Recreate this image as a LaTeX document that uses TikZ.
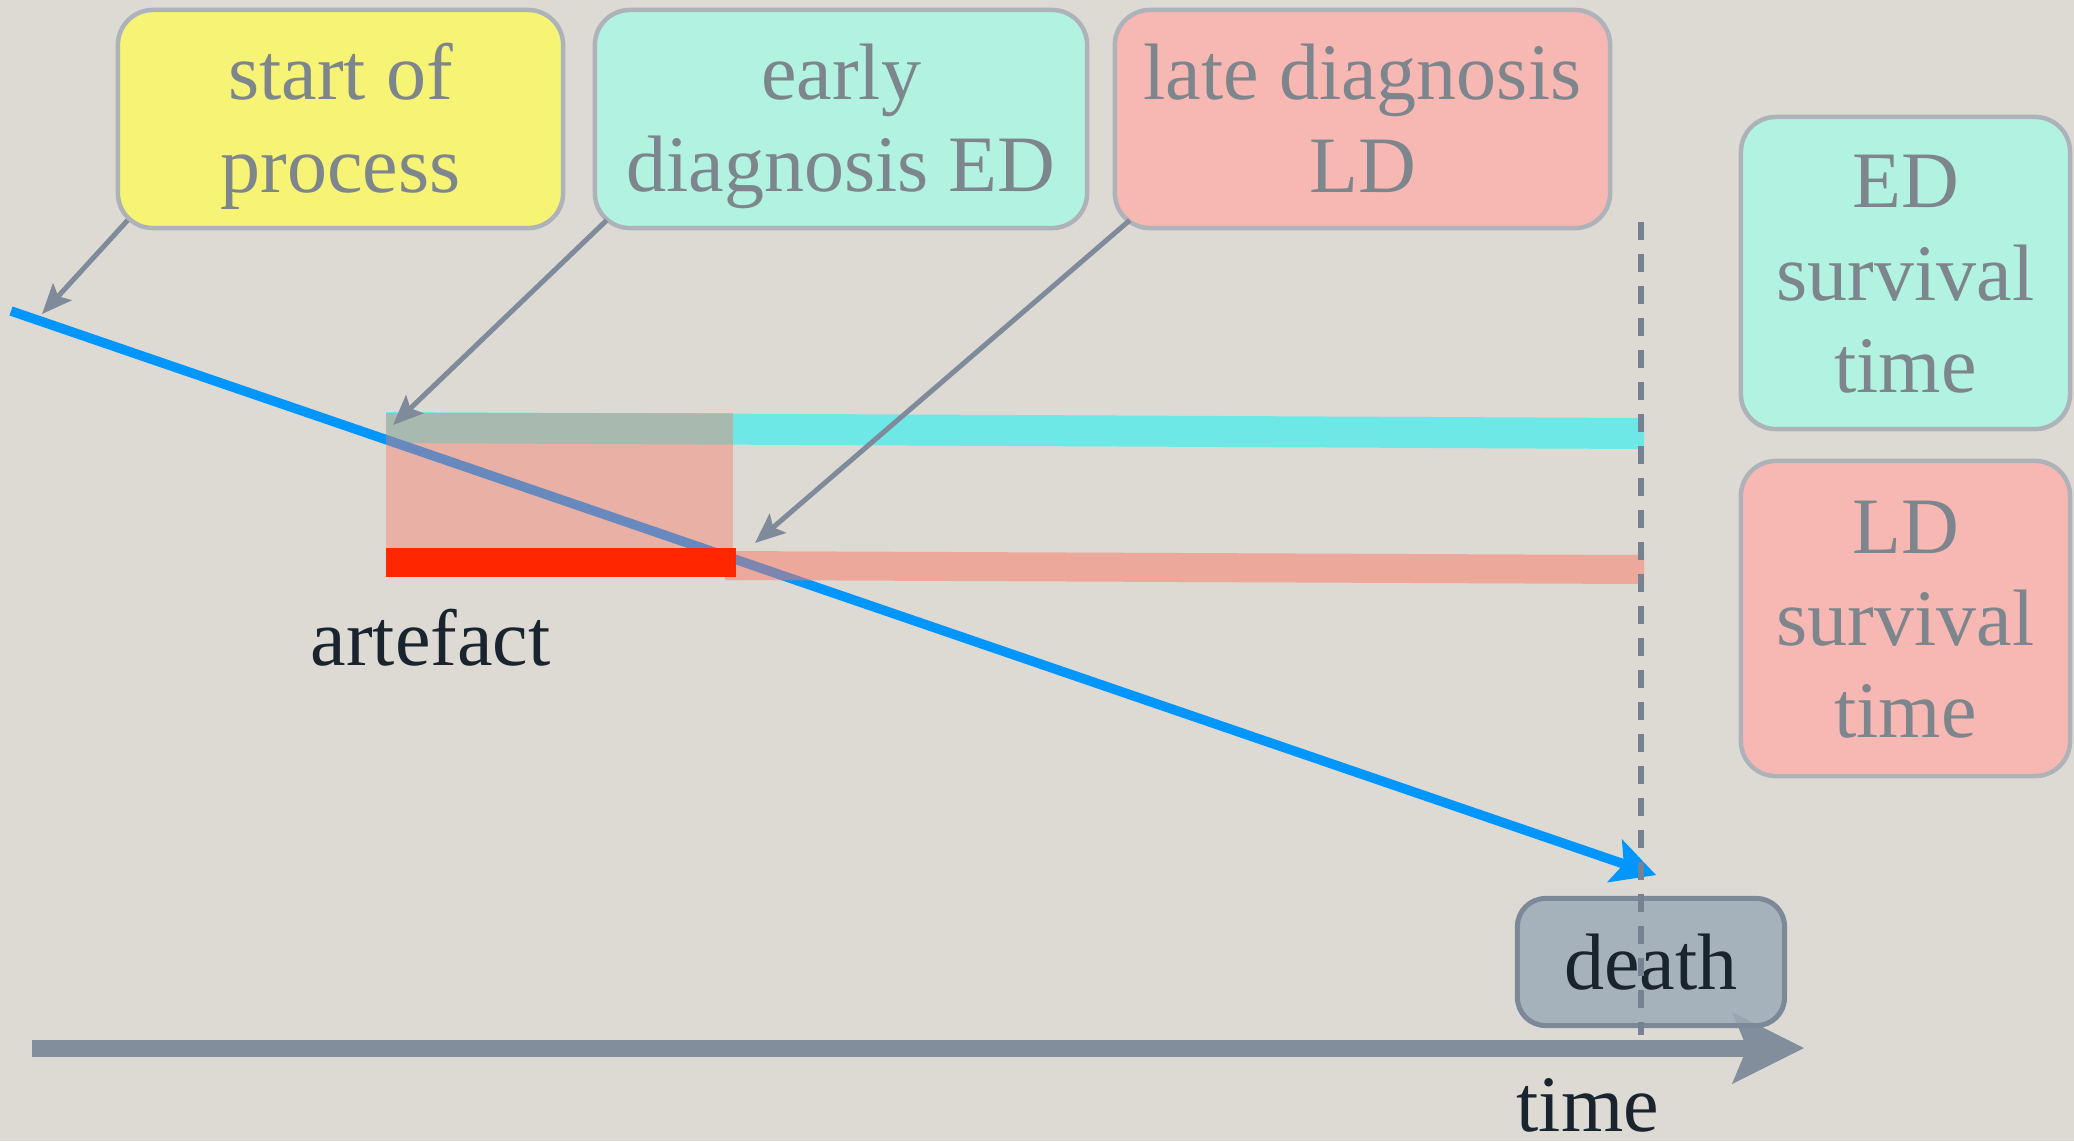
\documentclass[tikz,border=0pt]{standalone}
\usepackage{fontspec}
\setmainfont{Liberation Serif}
\usetikzlibrary{arrows.meta,calc}
\definecolor{bgc}{RGB}{221,218,212}
\definecolor{yellowc}{RGB}{247,243,116}
\definecolor{tealc}{RGB}{178,242,224}
\definecolor{pinkc}{RGB}{247,184,179}
\definecolor{boxborder}{RGB}{174,179,186}
\definecolor{boxtext}{RGB}{126,134,141}
\definecolor{cyanbar}{RGB}{104,233,232}
\definecolor{pinkov}{RGB}{250,120,100}
\definecolor{redbar}{RGB}{255,38,0}
\definecolor{bluel}{RGB}{0,150,255}
\definecolor{grayarrow}{RGB}{127,139,154}
\definecolor{axisc}{RGB}{131,142,156}
\definecolor{deathfill}{RGB}{157,171,183}
\definecolor{deathborder}{RGB}{124,137,153}
\definecolor{darktext}{RGB}{25,36,46}
\definecolor{dashc}{RGB}{118,130,146}
\newcommand\dgfont{\fontsize{22.76pt}{26.18pt}\selectfont}
\newcommand\topstrut{\rule{0pt}{0.71cm}}
\newcommand\botstrut{\rule[-0.17cm]{0pt}{0pt}}
\begin{document}
\begin{tikzpicture}[x=0.01cm,y=-0.01cm,
  boxstyle/.style={draw=boxborder, line width=0.045cm, rounded corners=0.35cm,
    inner sep=0pt, align=center, text=boxtext, font=\dgfont},
  connector/.style={draw=grayarrow, line width=0.05cm,
    -{Stealth[length=0.3cm,width=0.25cm,inset=0.06cm]}},
  darklabel/.style={text=darktext, font=\dgfont, inner sep=0pt}]
\fill[bgc] (0,0) rectangle (2074,1141);
\useasboundingbox (0,0) rectangle (2074,1141);

% boxes
\node[boxstyle, fill=yellowc, minimum width=4.45cm, minimum height=2.18cm] (start) at (340.5,119)
  {\topstrut start of\\process\botstrut};
\node[boxstyle, fill=tealc, minimum width=4.92cm, minimum height=2.18cm] (ed) at (841,119)
  {\topstrut early\\diagnosis ED\botstrut};
\node[boxstyle, fill=pinkc, minimum width=4.95cm, minimum height=2.18cm] (ld) at (1362.5,119)
  {\topstrut late diagnosis\\LD\botstrut};
\node[boxstyle, fill=tealc, minimum width=3.29cm, minimum height=3.12cm] (edsurv) at (1905.5,273)
  {\topstrut ED\\survival\\time\botstrut};
\node[boxstyle, fill=pinkc, minimum width=3.29cm, minimum height=3.15cm] (ldsurv) at (1905.5,618.5)
  {\topstrut LD\\survival\\time\botstrut};

% bars
\fill[cyanbar, opacity=0.95] (386,412) -- (1644,418) -- (1644,449) -- (386,443) -- cycle;

% blue process line
\coordinate (bs) at (11,311);
\coordinate (bt) at (1656,875);
\draw[bluel, line width=0.095cm, -{Stealth[length=0.44cm,width=0.46cm,inset=0.1cm,line width=0pt]}] (bs) -- (bt);

\fill[pinkov, opacity=0.42] (386,413) rectangle (733,549);
\fill[pinkov, opacity=0.5] (725,551) -- (1644,555) -- (1644,584) -- (725,580) -- cycle;
\fill[redbar] (386,548) rectangle (736,577);

% connectors
\coordinate (sp) at (42,314);
\coordinate (edp) at (393,425);
\coordinate (ldp) at (755,543);
\draw[connector] ([shift={(12,-10)}]start.south west) -- (sp);
\draw[connector] ([shift={(14,-10)}]ed.south west) -- (edp);
\draw[connector] ([shift={(17,-10)}]ld.south west) -- (ldp);

% time axis
\coordinate (ts) at (32,1048);
\coordinate (te) at (1804,1048);
\draw[axisc, line width=0.17cm, -{Stealth[length=0.72cm,width=0.72cm,inset=0.15cm,line width=0pt]}] (ts) -- (te);

% death
\node[draw=deathborder, line width=0.05cm, fill=deathfill, fill opacity=0.85, text opacity=1,
  rounded corners=0.28cm, minimum width=2.67cm, minimum height=1.27cm, inner sep=0pt,
  text=darktext, font=\dgfont] (death) at (1651,962) {death};

% dashed line
\coordinate (dtop) at (1641,222);
\coordinate (dbot) at (1641,1035);
\draw[dashc, line width=0.055cm, dash pattern=on 0.18cm off 0.14cm] (dtop) -- (dbot);

% labels
\node[darklabel, anchor=base west] (artefact) at (310,665) {artefact};
\node[darklabel, anchor=base west] (timelabel) at (1516,1131) {time};
\end{tikzpicture}
\end{document}
